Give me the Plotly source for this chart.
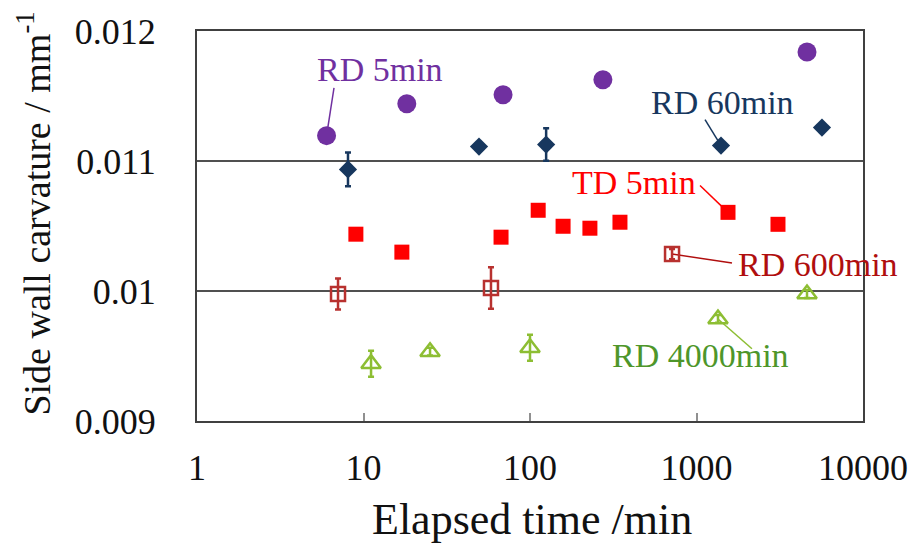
import plotly.graph_objects as go

# ---------------- data ----------------
rd5_t = [6.0, 18.2, 68.9, 274, 4610]
rd5_v = [0.011195, 0.011441, 0.011510, 0.011625, 0.011839]

rd60_t = [8.07, 49.4, 125, 1403, 5670]
rd60_v = [0.010935, 0.011111, 0.011126, 0.011119, 0.011257]
rd60_e = [0.00013, 0.0, 0.000125, 0.0, 0.0]

td5_t = [9.0, 17.0, 67, 112, 158, 229, 347, 1546, 3086]
td5_v = [0.010437, 0.010299, 0.010414, 0.010621, 0.010498, 0.010483, 0.010529, 0.010605, 0.010513]

rd600_t = [7.03, 58.3, 713]
rd600_v = [0.009977, 0.010023, 0.010284]
rd600_e = [0.00012, 0.00016, 0.00004]

rd4000_t = [11.1, 25.1, 100, 1346, 4610]
rd4000_v = [0.009441, 0.009533, 0.009563, 0.009785, 0.009977]
rd4000_e = [0.0001, 0.00003, 0.0001, 0.00003, 0.00003]

x_ticks = [1, 10, 100, 1000, 10000]
x_tick_text = ["1", "10", "100", "1000", "10000"]
y_ticks = [0.009, 0.01, 0.011, 0.012]
y_tick_text = ["0.009", "0.01", "0.011", "0.012"]

# ---------------- style ----------------
FONT = "Liberation Serif"
C_RD5 = "#7030A0"
C_RD60 = "#17375E"
C_TD5 = "#FF0000"
C_RD600 = "#B8312F"
C_RD600_TXT = "#B00E0E"
C_RD4000 = "#8DBE33"
C_RD4000_TXT = "#4E962A"

# plot area in pixels
L, R, T, B = 197, 863, 28, 421
W, H = 924, 545


def px(p):
    return (p - L) / (R - L)


def py(p):
    return (B - p) / (B - T)


fig = go.Figure()

# leader lines (label anchor -> data point), drawn under markers
leaders = [
    (6.65, 0.011563, rd5_t[0], rd5_v[0], C_RD5),
    (1125, 0.011318, rd60_t[3], rd60_v[3], C_RD60),
    (1050, 0.010812, td5_t[7], td5_v[7], C_TD5),
    (1634, 0.010215, rd600_t[2], rd600_v[2], C_RD600_TXT),
    (2153, 0.009556, rd4000_t[3], rd4000_v[3], C_RD4000),
]
for x0, y0, x1, y1, c in leaders:
    fig.add_trace(go.Scatter(x=[x0, x1], y=[y0, y1], mode="lines",
                             line=dict(color=c, width=1.5),
                             showlegend=False, hoverinfo="skip"))

fig.add_trace(go.Scatter(x=rd5_t, y=rd5_v, mode="markers", name="RD 5min",
                         marker=dict(symbol="circle", size=19, color=C_RD5)))
fig.add_trace(go.Scatter(x=rd60_t, y=rd60_v, mode="markers", name="RD 60min",
                         marker=dict(symbol="diamond", size=14, color=C_RD60),
                         error_y=dict(type="data", array=rd60_e, color=C_RD60,
                                      thickness=2.5, width=3)))
fig.add_trace(go.Scatter(x=td5_t, y=td5_v, mode="markers", name="TD 5min",
                         marker=dict(symbol="square", size=15, color=C_TD5)))
fig.add_trace(go.Scatter(x=rd600_t, y=rd600_v, mode="markers", name="RD 600min",
                         marker=dict(symbol="square-open", size=14, color=C_RD600,
                                     line=dict(width=2.5, color=C_RD600)),
                         error_y=dict(type="data", array=rd600_e, color=C_RD600,
                                      thickness=2.5, width=3)))
fig.add_trace(go.Scatter(x=rd4000_t, y=rd4000_v, mode="markers", name="RD 4000min",
                         marker=dict(symbol="triangle-up-open", size=17, color=C_RD4000,
                                     line=dict(width=2.5, color=C_RD4000)),
                         error_y=dict(type="data", array=rd4000_e, color=C_RD4000,
                                      thickness=2.5, width=3)))

ann_font = 34
annotations = [
    dict(text="RD 5min", x=px(380), y=py(67), color=C_RD5),
    dict(text="RD 60min", x=px(722), y=py(100), color=C_RD60),
    dict(text="TD 5min", x=px(634), y=py(181), color=C_TD5),
    dict(text="RD 600min", x=px(818), y=py(263), color=C_RD600_TXT),
    dict(text="RD 4000min", x=px(700), y=py(355), color=C_RD4000_TXT),
]
anns = []
for a in annotations:
    anns.append(dict(text=a["text"], x=a["x"], y=a["y"], xref="paper", yref="paper",
                     xanchor="center", yanchor="middle", showarrow=False,
                     font=dict(family=FONT, size=ann_font, color=a["color"])))

# axis titles
anns.append(dict(text="Elapsed time /min", x=px(532), y=py(520), xref="paper", yref="paper",
                 xanchor="center", yanchor="middle", showarrow=False,
                 font=dict(family=FONT, size=44, color="#111111")))
anns.append(dict(text="Side wall carvature / mm<sup>-1</sup>", x=px(34), y=py(212),
                 xref="paper", yref="paper", textangle=-90,
                 xanchor="center", yanchor="middle", showarrow=False,
                 font=dict(family=FONT, size=38, color="#111111")))

fig.update_layout(
    width=W, height=H,
    margin=dict(l=L, r=W - R, t=T, b=H - B),
    paper_bgcolor="white", plot_bgcolor="white",
    showlegend=False,
    annotations=anns,
    font=dict(family=FONT, color="#111111"),
)

fig.update_xaxes(type="log", range=[0, 4], tickvals=x_ticks, ticktext=x_tick_text,
                 showgrid=False, zeroline=False,
                 showline=True, linecolor="#404040", linewidth=2, mirror=True,
                 ticks="inside", ticklen=8, tickcolor="#909090", tickwidth=1.5,
                 ticklabelstandoff=14,
                 tickfont=dict(family=FONT, size=36, color="#111111"))
fig.update_yaxes(range=[0.009, 0.012], tickvals=y_ticks, ticktext=y_tick_text,
                 showgrid=True, gridcolor="#505050", gridwidth=1.5, zeroline=False,
                 showline=True, linecolor="#404040", linewidth=2, mirror=True,
                 ticks="", ticklabelstandoff=32,
                 tickfont=dict(family=FONT, size=36, color="#111111"))

fig.write_html("out.html")
